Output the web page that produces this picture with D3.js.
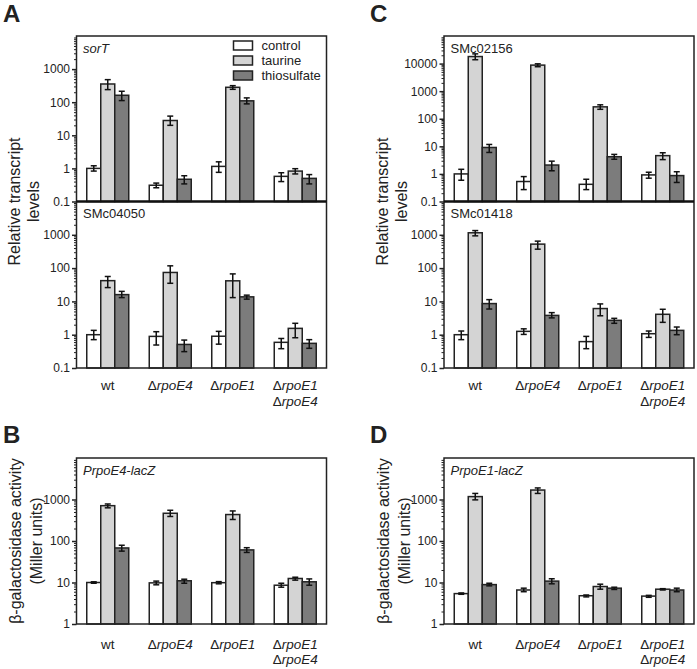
<!DOCTYPE html>
<html><head><meta charset="utf-8">
<script src="https://cdn.jsdelivr.net/npm/d3@7"></script>
<style>
html,body{margin:0;padding:0;background:#fff;}
text{font-family:"Liberation Sans",Arial,sans-serif;fill:#222;}
</style></head>
<body><svg id="chart" width="697" height="669"></svg>
<script>
// ---------- data ----------
const series = ["control", "taurine", "thiosulfate"];
const seriesColors = ["#ffffff", "#d4d4d4", "#7c7c7c"];
const groupLabels = [["wt"], ["ΔrpoE4"], ["ΔrpoE1"], ["ΔrpoE1", "ΔrpoE4"]];

// Panel A top: sorT
const sorT_mean = [[1.0, 355, 162], [0.31, 28, 0.47], [1.15, 282, 110], [0.575, 0.83, 0.5]];
const sorT_lo   = [[0.83, 240, 112], [0.26, 20, 0.34], [0.76, 245, 89], [0.40, 0.68, 0.34]];
const sorT_hi   = [[1.2, 480, 214], [0.36, 38, 0.6], [1.58, 316, 135], [0.74, 0.98, 0.65]];
// Panel A bottom: SMc04050
const smc04050_mean = [[1.0, 42, 16], [0.89, 74, 0.51], [0.9, 41.5, 13.7], [0.59, 1.55, 0.55]];
const smc04050_lo   = [[0.71, 26, 13], [0.49, 35, 0.31], [0.52, 13, 11.7], [0.38, 0.81, 0.39]];
const smc04050_hi   = [[1.35, 56, 20], [1.23, 117, 0.69], [1.26, 67, 15.4], [0.77, 2.2, 0.71]];
// Panel B: PrpoE4-lacZ
const prpoE4_mean = [[10, 710, 68], [9.8, 466, 11], [9.9, 434, 61], [8.6, 12.5, 10.4]];
const prpoE4_lo   = [[9.6, 630, 57], [8.8, 390, 9.6], [9.3, 330, 53], [7.7, 11.4, 8.6]];
const prpoE4_hi   = [[10.4, 780, 79], [10.8, 550, 12], [10.5, 530, 69], [9.6, 13.4, 12.2]];
// Panel C top: SMc02156
const smc02156_mean = [[1.0, 18000, 9.1], [0.53, 8800, 2.1], [0.42, 270, 4.2], [0.92, 4.6, 0.87]];
const smc02156_lo   = [[0.59, 13800, 6.0], [0.27, 7700, 1.3], [0.27, 220, 3.4], [0.70, 3.3, 0.49]];
const smc02156_hi   = [[1.47, 22500, 11.7], [0.8, 9800, 2.9], [0.64, 320, 5.1], [1.15, 5.85, 1.2]];
// Panel C bottom: SMc01418
const smc01418_mean = [[1.0, 1150, 8.6], [1.26, 525, 3.8], [0.62, 6.1, 2.7], [1.07, 4.1, 1.35]];
const smc01418_lo   = [[0.71, 930, 5.9], [1.02, 370, 3.2], [0.38, 3.7, 2.2], [0.83, 2.35, 1.0]];
const smc01418_hi   = [[1.29, 1340, 11.3], [1.5, 645, 4.6], [0.89, 8.4, 3.1], [1.29, 5.8, 1.7]];
// Panel D: PrpoE1-lacZ
const prpoE1_mean = [[5.4, 1175, 8.9], [6.6, 1690, 10.8], [4.8, 8.0, 7.3], [4.7, 6.9, 6.6]];
const prpoE1_lo   = [[5.2, 980, 8.3], [6.0, 1400, 9.3], [4.5, 6.9, 6.8], [4.4, 6.6, 6.0]];
const prpoE1_hi   = [[5.6, 1400, 9.6], [7.3, 1900, 12.3], [5.0, 9.1, 7.7], [4.9, 7.1, 7.3]];

// tick labels
const ticksTranscript = [0.1, 1, 10, 100, 1000];
const ticksTranscriptC = [0.1, 1, 10, 100, 1000, 10000];
const ticksMiller = [1, 10, 100, 1000];

// ---------- drawing ----------
const svg = d3.select("#chart");
const fmt = d3.format("~g");
const STROKE = "#222";

function minorTicks(domain) {
  const out = [];
  const lo = Math.round(Math.log10(domain[0])), hi = Math.round(Math.log10(domain[1]));
  for (let e = lo; e < hi; e++) for (let k = 2; k <= 9; k++) out.push(k * Math.pow(10, e));
  return out;
}

function drawSub(o) {
  const y = d3.scaleLog().domain(o.domain).range([o.bottom, o.top]);
  const x0 = d3.scaleBand().domain(d3.range(4)).range([o.left, o.left + 250])
    .paddingInner(0.328).paddingOuter(0.164);
  const x1 = d3.scaleBand().domain(d3.range(3)).range([0, x0.bandwidth()]);
  const g = svg.append("g");

  const minor = g.append("g").attr("transform", `translate(${o.left},0)`)
    .call(d3.axisLeft(y).tickValues(minorTicks(o.domain)).tickSize(2.5).tickFormat(""));
  minor.select(".domain").remove();
  minor.selectAll("line").attr("stroke", STROKE).attr("stroke-width", 1);
  const major = g.append("g").attr("transform", `translate(${o.left},0)`)
    .call(d3.axisLeft(y).tickValues(o.ticks).tickSize(4.5).tickPadding(2).tickFormat(fmt));
  major.select(".domain").remove();
  major.selectAll("line").attr("stroke", STROKE).attr("stroke-width", 1.5);
  major.selectAll("text").attr("font-size", 12).attr("font-family", "Liberation Sans, Arial, sans-serif").attr("fill", "#222");

  o.mean.forEach((row, gi) => {
    row.forEach((v, si) => {
      const bx = x0(gi) + x1(si);
      g.append("rect")
        .attr("x", bx).attr("width", x1.bandwidth())
        .attr("y", y(v)).attr("height", y(o.domain[0]) - y(v))
        .attr("fill", seriesColors[si]).attr("stroke", STROKE).attr("stroke-width", 1.5);
      const cx = bx + x1.bandwidth() / 2;
      const lo = o.lo[gi][si], hi = o.hi[gi][si];
      g.append("line").attr("x1", cx).attr("x2", cx).attr("y1", y(lo)).attr("y2", y(hi))
        .attr("stroke", "#111").attr("stroke-width", 1.5);
      [lo, hi].forEach(e => g.append("line").attr("x1", cx - 3).attr("x2", cx + 3)
        .attr("y1", y(e)).attr("y2", y(e)).attr("stroke", "#111").attr("stroke-width", 1.5));
    });
  });

  const t = g.append("text").attr("x", o.left + 6.5).attr("y", o.top + 16.5)
    .attr("font-size", 13).text(o.title);
  if (o.italic) t.attr("font-style", "italic");
  return { x0 };
}

function xLabels(x0, base, step) {
  groupLabels.forEach((lines, gi) => {
    lines.forEach((l, li) => {
      const t = svg.append("text").attr("x", x0(gi) + x0.bandwidth() / 2).attr("y", base + li * step)
        .attr("text-anchor", "middle").attr("font-size", 13.5);
      if (l === "wt") t.text(l);
      else { t.append("tspan").text("Δ"); t.append("tspan").attr("font-style", "italic").text(l.slice(1)); }
    });
  });
}

function yTitle(cx, cy, lines) {
  lines.forEach((l, i) => {
    svg.append("text").attr("transform", `translate(${cx[i]},${cy}) rotate(-90)`)
      .attr("text-anchor", "middle").attr("dominant-baseline", "central")
      .attr("font-size", 16).text(l);
  });
}

function frame(left, top, bottom, divider) {
  svg.append("rect").attr("x", left).attr("y", top).attr("width", 250).attr("height", bottom - top)
    .attr("fill", "none").attr("stroke", STROKE).attr("stroke-width", 1.5);
  if (divider) svg.append("line").attr("x1", left).attr("x2", left + 250)
    .attr("y1", divider).attr("y2", divider).attr("stroke", "#111").attr("stroke-width", 2.5);
}

function panelLetter(txt, x, y) {
  svg.append("text").attr("x", x).attr("y", y).attr("font-size", 24).attr("font-weight", "bold")
    .attr("fill", "#000").text(txt);
}

const TOP = 36, MID = 201.5, BOT = 368, BTOP = 458, BBOT = 624;
const LA = 76.5, LC = 444;

// Panel A
let r = drawSub({ left: LA, top: TOP, bottom: MID, domain: [0.1, 1e4], ticks: ticksTranscript,
  mean: sorT_mean, lo: sorT_lo, hi: sorT_hi, title: "sorT", italic: true });
drawSub({ left: LA, top: MID, bottom: BOT, domain: [0.1, 1e4], ticks: ticksTranscript,
  mean: smc04050_mean, lo: smc04050_lo, hi: smc04050_hi, title: "SMc04050" });
frame(LA, TOP, BOT, MID);
xLabels(r.x0, 389.5, 16.5);
yTitle([14, 33], MID, ["Relative transcript", "levels"]);
panelLetter("A", 3, 22);

series.forEach((s, i) => {
  svg.append("rect").attr("x", 233.5).attr("y", 41 + i * 15).attr("width", 19).attr("height", 9)
    .attr("fill", seriesColors[i]).attr("stroke", STROKE).attr("stroke-width", 1.5);
  svg.append("text").attr("x", 261.5).attr("y", 50 + i * 15).attr("font-size", 13).text(s);
});

// Panel B
r = drawSub({ left: LA, top: BTOP, bottom: BBOT, domain: [1, 1e4], ticks: ticksMiller,
  mean: prpoE4_mean, lo: prpoE4_lo, hi: prpoE4_hi, title: "PrpoE4-lacZ", italic: true });
frame(LA, BTOP, BBOT);
xLabels(r.x0, 648.5, 15.5);
yTitle([15, 36], (BTOP + BBOT) / 2, ["β-galactosidase activity", "(Miller units)"]);
panelLetter("B", 3, 443);

// Panel C
r = drawSub({ left: LC, top: TOP, bottom: MID, domain: [0.1, 1e5], ticks: ticksTranscriptC,
  mean: smc02156_mean, lo: smc02156_lo, hi: smc02156_hi, title: "SMc02156" });
drawSub({ left: LC, top: MID, bottom: BOT, domain: [0.1, 1e4], ticks: ticksTranscript,
  mean: smc01418_mean, lo: smc01418_lo, hi: smc01418_hi, title: "SMc01418" });
frame(LC, TOP, BOT, MID);
xLabels(r.x0, 389.5, 16.5);
yTitle([382, 401], MID, ["Relative transcript", "levels"]);
panelLetter("C", 370, 22);

// Panel D
r = drawSub({ left: LC, top: BTOP, bottom: BBOT, domain: [1, 1e4], ticks: ticksMiller,
  mean: prpoE1_mean, lo: prpoE1_lo, hi: prpoE1_hi, title: "PrpoE1-lacZ", italic: true });
frame(LC, BTOP, BBOT);
xLabels(r.x0, 648.5, 15.5);
yTitle([383, 404], (BTOP + BBOT) / 2, ["β-galactosidase activity", "(Miller units)"]);
panelLetter("D", 370, 443);
</script></body></html>
